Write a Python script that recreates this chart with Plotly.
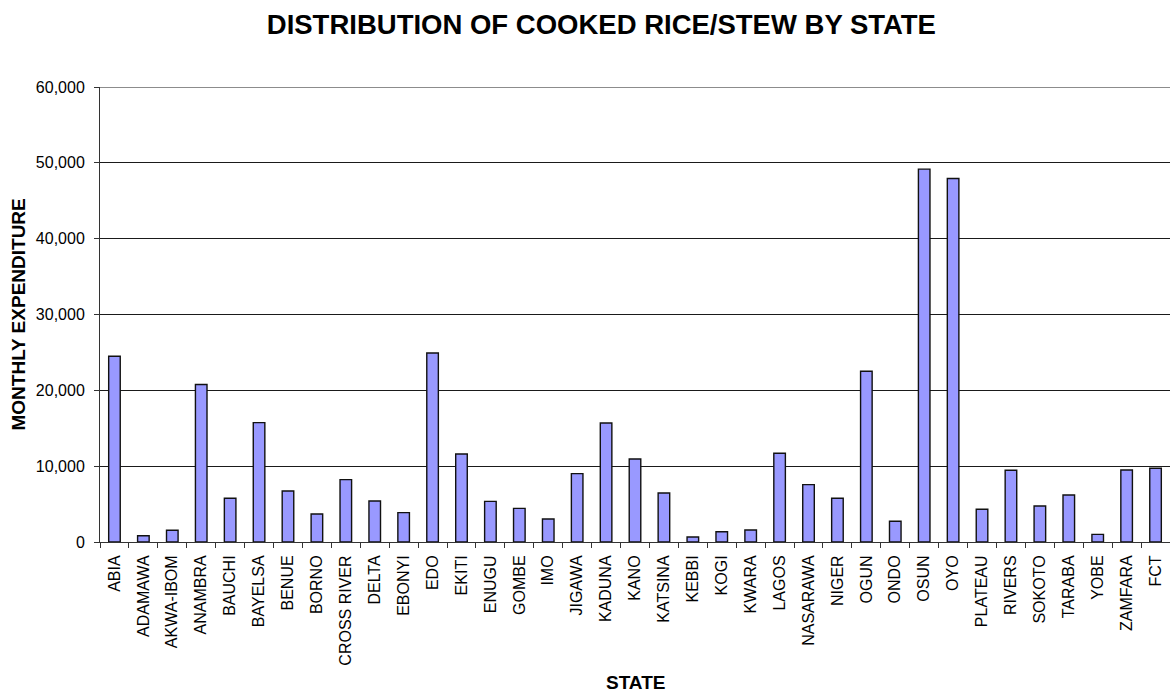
import plotly.graph_objects as go

# Monthly expenditure on cooked rice/stew, by state
states = [
    "ABIA", "ADAMAWA", "AKWA-IBOM", "ANAMBRA", "BAUCHI", "BAYELSA", "BENUE",
    "BORNO", "CROSS RIVER", "DELTA", "EBONYI", "EDO", "EKITI", "ENUGU",
    "GOMBE", "IMO", "JIGAWA", "KADUNA", "KANO", "KATSINA", "KEBBI", "KOGI",
    "KWARA", "LAGOS", "NASARAWA", "NIGER", "OGUN", "ONDO", "OSUN", "OYO",
    "PLATEAU", "RIVERS", "SOKOTO", "TARABA", "YOBE", "ZAMFARA", "FCT",
]
expenditure = [
    24500, 830, 1540, 20760, 5760, 15740, 6730,
    3690, 8220, 5410, 3870, 24930, 11610, 5360,
    4440, 3030, 9010, 15700, 10950, 6460, 660, 1360,
    1580, 11700, 7560, 5760, 22520, 2730, 49170, 47930,
    4310, 9460, 4750, 6200, 1010, 9500, 9720,
]
y_ticks = [0, 10000, 20000, 30000, 40000, 50000, 60000]

FONT = "Liberation Sans, Arial, sans-serif"
GRID = "#1a1a1a"

fig = go.Figure(
    go.Bar(
        x=states,
        y=expenditure,
        marker=dict(color="#9999FF", line=dict(color="#111111", width=1.4)),
    )
)

fig.update_layout(
    width=1170,
    height=696,
    margin=dict(l=100, r=0, t=87, b=154),
    paper_bgcolor="white",
    plot_bgcolor="white",
    bargap=0.6,
    showlegend=False,
    font=dict(family=FONT, color="black", size=16),
    title=dict(
        text="<b>DISTRIBUTION OF COOKED RICE/STEW BY STATE</b>",
        x=0.514,
        xanchor="center",
        y=1 - 24 / 696,
        yanchor="middle",
        font=dict(family=FONT, size=27.5, color="black"),
    ),
    annotations=[
        dict(
            text="<b>STATE</b>",
            xref="paper", yref="paper",
            x=0.5, y=-(695 - 542) / (542 - 87),
            xanchor="center", yanchor="bottom",
            showarrow=False,
            font=dict(family=FONT, size=19, color="black"),
        ),
        dict(
            text="<b>MONTHLY EXPENDITURE</b>",
            xref="paper", yref="paper",
            x=-(100 - 18) / 1070, y=0.5,
            xanchor="center", yanchor="middle",
            textangle=-90,
            showarrow=False,
            font=dict(family=FONT, size=19, color="black"),
        ),
    ],
    # top gridline sits on the plot edge, draw it explicitly
    shapes=[
        dict(
            type="line", xref="paper", yref="y",
            x0=0, x1=1, y0=y_ticks[-1], y1=y_ticks[-1],
            line=dict(color=GRID, width=1),
        )
    ],
)

fig.update_xaxes(
    type="category",
    tickangle=-90,
    tickfont=dict(family=FONT, size=16, color="black"),
    showline=True,
    linecolor="#333333",
    linewidth=1,
    ticks="outside",
    tickson="boundaries",
    ticklen=5,
    tickcolor="#333333",
    ticklabelstandoff=6,
    showgrid=False,
    automargin=False,
)

fig.update_yaxes(
    range=[0, 60000],
    tickvals=y_ticks,
    tickformat=",d",
    tickfont=dict(family=FONT, size=16, color="black"),
    showline=True,
    linecolor="#333333",
    linewidth=1,
    ticks="outside",
    ticklen=5,
    tickcolor="#333333",
    ticklabelstandoff=6,
    showgrid=True,
    gridcolor=GRID,
    gridwidth=1,
    zeroline=False,
    automargin=False,
)

fig.write_html("out.html")
